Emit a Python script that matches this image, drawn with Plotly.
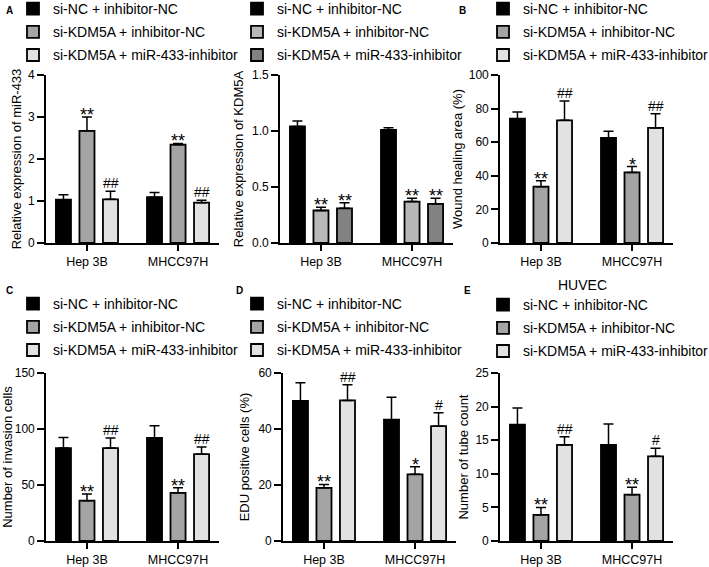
import plotly.graph_objects as go

# ---------------- data ----------------
groups = ["si-NC + inhibitor-NC", "si-KDM5A + inhibitor-NC", "si-KDM5A + miR-433-inhibitor"]
cells = ["Hep 3B", "MHCC97H"]

mir433_mean = [[1.03, 1.09], [2.67, 2.34], [1.04, 0.96]]
mir433_err = [[0.12, 0.11], [0.33, 0.03], [0.19, 0.06]]
mir433_sig = [["", ""], ["**", "**"], ["##", "##"]]

kdm5a_mean = [[1.04, 1.01], [0.29, 0.37], [0.31, 0.35]]
kdm5a_err = [[0.05, 0.02], [0.03, 0.03], [0.05, 0.05]]
kdm5a_sig = [["", ""], ["**", "**"], ["**", "**"]]

wound_mean = [[74.0, 62.5], [33.5, 42.0], [73.0, 68.5]]
wound_err = [[4.0, 4.0], [3.5, 3.5], [11.5, 8.5]]
wound_sig = [["", ""], ["**", "*"], ["##", "##"]]

invasion_mean = [[83.0, 92.0], [36.0, 43.0], [83.0, 77.5]]
invasion_err = [[9.5, 11.0], [6.0, 4.5], [9.0, 6.5]]
invasion_sig = [["", ""], ["**", "**"], ["##", "##"]]

edu_mean = [[50.0, 43.3], [19.0, 23.8], [50.2, 41.0]]
edu_err = [[6.5, 8.0], [1.2, 2.7], [5.6, 4.8]]
edu_sig = [["", ""], ["**", "*"], ["##", "#"]]

tube_mean = [[17.3, 14.3], [3.9, 6.9], [14.3, 12.6]]
tube_err = [[2.5, 3.1], [1.1, 1.1], [1.2, 1.2]]
tube_sig = [["", ""], ["**", "**"], ["##", "#"]]

# ---------------- style ----------------
W, H = 709, 567
FONT = "Liberation Sans, Arial, sans-serif"
STD_COLORS = ["#000000", "#a4a4a4", "#e2e2e2"]
ALT_COLORS = ["#000000", "#b8b8b8", "#828282"]
BARGAP = 0.225
BARGROUPGAP = 0.36
SLOT = (1 - BARGAP) / 3


def fx(p):
    return p / W


def fy(p):
    return 1 - p / H


ROW1 = (75, 243)
ROW2 = (373, 541)

panels = [
    dict(mean=mir433_mean, err=mir433_err, sig=mir433_sig, colors=STD_COLORS,
         xpx=(46, 219), ypx=ROW1, yr=[0, 4], dtick=1, fmt="", so=4,
         title="Relative expression of miR-433", leg=(13, -7)),
    dict(mean=kdm5a_mean, err=kdm5a_err, sig=kdm5a_sig, colors=ALT_COLORS,
         xpx=(280, 453), ypx=ROW1, yr=[0, 1.5], dtick=0.5, fmt=".1f", so=6,
         title="Relative expression of KDM5A", leg=(237, -7)),
    dict(mean=wound_mean, err=wound_err, sig=wound_sig, colors=STD_COLORS,
         xpx=(500, 673), ypx=ROW1, yr=[0, 100], dtick=20, fmt="", so=3,
         title="Wound healing area (%)", leg=(483, -7)),
    dict(mean=invasion_mean, err=invasion_err, sig=invasion_sig, colors=STD_COLORS,
         xpx=(46, 219), ypx=ROW2, yr=[0, 150], dtick=50, fmt="", so=3,
         title="Number of invasion cells", leg=(13, 288)),
    dict(mean=edu_mean, err=edu_err, sig=edu_sig, colors=STD_COLORS,
         xpx=(283, 456), ypx=ROW2, yr=[0, 60], dtick=20, fmt="", so=6,
         title="EDU positive cells (%)", leg=(237, 288)),
    dict(mean=tube_mean, err=tube_err, sig=tube_sig, colors=STD_COLORS,
         xpx=(500, 673), ypx=ROW2, yr=[0, 25], dtick=5, fmt="", so=4,
         title="Number of tube count", leg=(483, 289)),
]

fig = go.Figure()
layout = dict(
    width=W, height=H,
    margin=dict(l=0, r=0, t=0, b=0, autoexpand=False),
    paper_bgcolor="white", plot_bgcolor="white",
    barmode="group", bargap=BARGAP, bargroupgap=BARGROUPGAP,
    font=dict(family=FONT, size=13, color="black"),
)
annotations = []

for k, p in enumerate(panels):
    n = k + 1
    sfx = "" if n == 1 else str(n)
    xa, ya, leg = "x" + sfx, "y" + sfx, "legend" + sfx
    for j in range(3):
        fig.add_trace(go.Bar(
            x=cells, y=p["mean"][j], name=groups[j],
            marker=dict(color=p["colors"][j], line=dict(color="black", width=1.8)),
            error_y=dict(type="data", array=p["err"][j], arrayminus=[0, 0],
                         symmetric=False, color="black", thickness=1.5, width=5),
            xaxis=xa, yaxis=ya, legend=leg, legendgroup=f"g{n}_{j}",
            hoverinfo="skip",
        ))
        for i in range(2):
            s = p["sig"][j][i]
            if s:
                star = "*" in s
                annotations.append(dict(
                    x=i + (j - 1) * SLOT, y=p["mean"][j][i] + p["err"][j][i],
                    xref=xa, yref=ya, text=s, showarrow=False,
                    yanchor="bottom", xanchor="center",
                    yshift=-10 if star else -2,
                    font=dict(size=18 if star else 14, family=FONT, color="black"),
                ))
    layout["xaxis" + sfx] = dict(
        domain=[fx(p["xpx"][0]), fx(p["xpx"][1])], anchor=ya,
        type="category", range=[-0.45, 1.45],
        showline=True, linecolor="black", linewidth=1.6,
        ticks="outside", ticklen=6, tickwidth=1.5, tickcolor="black",
        showgrid=False, zeroline=False, automargin=False,
        tickfont=dict(size=12.5, family=FONT, color="black"),
    )
    layout["yaxis" + sfx] = dict(
        domain=[fy(p["ypx"][1]), fy(p["ypx"][0])], anchor=xa,
        range=p["yr"], dtick=p["dtick"], tick0=0, tickformat=p["fmt"],
        showline=True, linecolor="black", linewidth=1.6,
        ticks="outside", ticklen=7, tickwidth=1.5, tickcolor="black",
        showgrid=False, zeroline=False, automargin=True,
        tickfont=dict(size=12, family=FONT, color="black"),
        title=dict(text=p["title"], standoff=p["so"],
                   font=dict(size=13, family=FONT, color="black")),
    )
    layout[leg] = dict(
        x=fx(p["leg"][0]), y=fy(p["leg"][1]), xanchor="left", yanchor="top",
        xref="paper", yref="paper",
        bgcolor="rgba(0,0,0,0)", borderwidth=0, tracegroupgap=2,
        traceorder="grouped",
        font=dict(size=14, family=FONT, color="black"),
    )

for letter, (px, py) in zip("ABCDE", [(4, 10), (457, 10), (4, 290), (234, 290), (462, 290)]):
    annotations.append(dict(
        x=fx(px), y=fy(py), xref="paper", yref="paper", text=f"<b>{letter}</b>",
        showarrow=False, xanchor="left", yanchor="middle",
        font=dict(size=10, family=FONT, color="black"),
    ))
annotations.append(dict(
    x=fx(582), y=fy(285), xref="paper", yref="paper", text="HUVEC",
    showarrow=False, xanchor="center", yanchor="middle",
    font=dict(size=14, family=FONT, color="black"),
))
layout["annotations"] = annotations

fig.update_layout(**layout)
fig.write_html(
    "out.html",
    config={"displayModeBar": False},
    post_script="document.body.style.margin='0';document.body.style.overflow='hidden';",
)
